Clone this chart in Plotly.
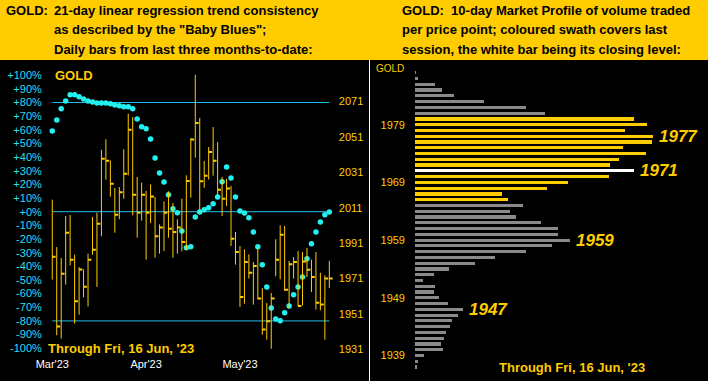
import plotly.graph_objects as go

# ---------------- data ----------------
dates = [
    "2023-03-20", "2023-03-21", "2023-03-22", "2023-03-23", "2023-03-24",
    "2023-03-27", "2023-03-28", "2023-03-29", "2023-03-30", "2023-03-31",
    "2023-04-03", "2023-04-04", "2023-04-05", "2023-04-06", "2023-04-10",
    "2023-04-11", "2023-04-12", "2023-04-13", "2023-04-14", "2023-04-17",
    "2023-04-18", "2023-04-19", "2023-04-20", "2023-04-21", "2023-04-24",
    "2023-04-25", "2023-04-26", "2023-04-27", "2023-04-28", "2023-05-01",
    "2023-05-02", "2023-05-03", "2023-05-04", "2023-05-05", "2023-05-08",
    "2023-05-09", "2023-05-10", "2023-05-11", "2023-05-12", "2023-05-15",
    "2023-05-16", "2023-05-17", "2023-05-18", "2023-05-19", "2023-05-22",
    "2023-05-23", "2023-05-24", "2023-05-25", "2023-05-26", "2023-05-30",
    "2023-05-31", "2023-06-01", "2023-06-02", "2023-06-05", "2023-06-06",
    "2023-06-07", "2023-06-08", "2023-06-09", "2023-06-12", "2023-06-13",
    "2023-06-14", "2023-06-15", "2023-06-16",
]
high = [
    2015.6, 1988.8, 1982.6, 2006.3, 2006.9, 1984.5, 1977.5, 1976.2, 1985.1, 2005.8,
    2008.2, 2043.8, 2049.6, 2037.6, 2022.2, 2022.7, 2044.0, 2064.1, 2062.2, 2028.4,
    2025.2, 2020.5, 2024.2, 2017.1, 2001.6, 2014.6, 2020.3, 2013.7, 2004.5, 2016.1,
    2029.3, 2050.4, 2086.1, 2061.7, 2037.4, 2045.3, 2056.6, 2048.1, 2028.4, 2027.4,
    2023.3, 1997.3, 1989.4, 1987.5, 1984.7, 1980.4, 1988.5, 1965.7, 1957.2, 1962.9,
    1993.2, 2001.1, 2000.7, 1981.0, 1983.2, 1986.6, 1986.0, 1988.3, 1981.7, 1986.0,
    1974.3, 1972.8, 1981.0,
]
low = [
    1970.4, 1939.0, 1937.1, 1967.6, 1978.5, 1945.6, 1950.6, 1960.4, 1955.2, 1984.5,
    1966.3, 1994.9, 2026.9, 2017.3, 1996.9, 2004.5, 2016.1, 2029.3, 2006.7, 1994.1,
    2003.7, 1981.7, 2002.4, 1982.8, 1985.1, 1986.6, 1994.1, 1982.8, 1985.1, 1986.4,
    1987.3, 2016.7, 2039.3, 2008.0, 2022.3, 2026.9, 2029.1, 2017.1, 2006.3, 2012.0,
    1989.4, 1978.9, 1955.0, 1956.8, 1971.0, 1956.3, 1959.3, 1939.3, 1936.5, 1931.4,
    1972.3, 1970.6, 1964.0, 1954.0, 1971.0, 1955.3, 1955.9, 1971.9, 1963.4, 1953.5,
    1953.1, 1936.5, 1965.7,
]
close = [
    1983.4, 1944.0, 1973.8, 1996.9, 1981.7, 1958.2, 1976.2, 1966.4, 1981.7, 1987.3,
    2002.0, 2038.7, 2037.6, 2024.6, 2007.1, 2019.7, 2030.2, 2055.1, 2018.4, 2008.2,
    2018.4, 2008.2, 2017.3, 1994.9, 1999.8, 2008.2, 1999.2, 1997.3, 1999.8, 1991.7,
    2026.1, 2049.6, 2058.9, 2025.9, 2029.1, 2042.5, 2037.6, 2021.2, 2016.1, 2021.8,
    1993.5, 1986.0, 1960.6, 1980.4, 1974.3, 1978.1, 1959.7, 1942.2, 1946.9, 1959.7,
    1981.7, 1995.8, 1964.7, 1979.1, 1980.4, 1955.5, 1980.7, 1976.0, 1971.9, 1957.4,
    1956.3, 1971.0, 1971.0,
]
trend_pct = [
    59.1, 67.2, 75.5, 81.1, 85.7, 85.7, 84.2, 82.6, 81.1, 80.4,
    79.6, 79.6, 79.6, 79.1, 78.2, 77.7, 76.9, 76.9, 75.5, 67.9,
    62.3, 60.7, 53.3, 39.3, 28.4, 21.8, 12.5, 2.2, -0.7, -14.1,
    -26.4, -25.6, -3.9, -0.2, 1.5, 2.9, 5.9, 10.8, 22.0, 32.7,
    24.7, 10.8, 0.5, -1.0, -4.4, -14.9, -25.6, -38.8, -55.2, -70.5,
    -78.6, -79.9, -74.0, -69.1, -60.8, -55.2, -47.8, -34.4, -23.4, -14.9,
    -7.5, -2.2, -0.2,
]

month_tick_dates = ["2023-03-20", "2023-04-19", "2023-05-18"]
month_tick_labels = ["Mar'23", "Apr'23", "May'23"]
pct_ticks = [100, 90, 80, 70, 60, 50, 40, 30, 20, 10, 0,
             -10, -20, -30, -40, -50, -60, -70, -80, -90, -100]
pct_labels = ["+100%", "+90%", "+80%", "+70%", "+60%", "+50%", "+40%", "+30%",
              "+20%", "+10%", "+0%", "-10%", "-20%", "-30%", "-40%", "-50%",
              "-60%", "-70%", "-80%", "-90%", "-100%"]
price_ticks = [1931, 1951, 1971, 1991, 2011, 2031, 2051, 2071]
ref_levels = [80, 0, -80]

profile_levels = [
    1937, 1938, 1939, 1940, 1941, 1942, 1943, 1944, 1945, 1946, 1947, 1948, 1949,
    1950, 1951, 1952, 1953, 1954, 1955, 1956, 1957, 1958, 1959, 1960, 1961, 1962,
    1963, 1964, 1965, 1966, 1967, 1968, 1969, 1970, 1971, 1972, 1973, 1974, 1975,
    1976, 1977, 1978, 1979, 1980, 1981, 1982, 1983, 1984, 1985, 1986, 1987, 1988,
]
profile_volume = [
    2, 3, 9, 28, 26, 29, 31, 35, 37, 43, 48, 33, 24,
    19, 20, 8, 19, 34, 60, 80, 111, 137, 155, 143, 143, 126,
    101, 95, 108, 93, 87, 132, 153, 194, 219, 195, 204, 231, 208,
    237, 238, 210, 232, 219, 130, 111, 69, 39, 27, 20, 3, 1,
]
session_low = 1966
session_high = 1980
close_level = 1971
profile_tick_levels = [1939, 1949, 1959, 1969, 1979]
labelled_levels = [1977, 1971, 1959, 1947]

# ---------------- styles ----------------
W, H = 708, 381
GOLD = "#FFCC00"
CYAN_DOT = "#22F0F0"
CYAN_LINE = "#1EBEF0"
CYAN_TXT = "#2ADFF5"
GRAY = "#8A8A8A"
FONT = "Liberation Sans, Arial, sans-serif"


def px_x(x):
    return x / W


def px_y(y):
    return 1 - y / H


idx = list(range(len(dates)))

fig = go.Figure()

# vertical high-low lines
vx, vy = [], []
for i, h, l in zip(idx, high, low):
    vx += [i, i, None]
    vy += [l, h, None]
fig.add_trace(go.Scatter(x=vx, y=vy, mode="lines", yaxis="y2",
                         line=dict(color=GOLD, width=1), hoverinfo="skip",
                         showlegend=False))
# close ticks (right side)
tx, ty = [], []
for i, c in zip(idx, close):
    tx += [i, i + 0.75, None]
    ty += [c, c, None]
fig.add_trace(go.Scatter(x=tx, y=ty, mode="lines", yaxis="y2",
                         line=dict(color=GOLD, width=2), hoverinfo="skip",
                         showlegend=False))
# reference lines
for lv in ref_levels:
    fig.add_trace(go.Scatter(x=[idx[0], idx[-1]], y=[lv, lv], mode="lines",
                             line=dict(color=CYAN_LINE, width=1),
                             hoverinfo="skip", showlegend=False))
# baby blues
fig.add_trace(go.Scatter(x=idx, y=trend_pct, mode="markers",
                         marker=dict(color=CYAN_DOT, size=5.5, symbol="circle"),
                         showlegend=False))

# market profile
bar_colors = []
for lv in profile_levels:
    if lv == close_level:
        bar_colors.append("#FFFFFF")
    elif session_low <= lv <= session_high:
        bar_colors.append(GOLD)
    else:
        bar_colors.append(GRAY)
fig.add_trace(go.Bar(x=profile_volume, y=profile_levels, orientation="h",
                     marker=dict(color=bar_colors, line=dict(width=0)),
                     width=0.55, xaxis="x3", yaxis="y3", showlegend=False))

annotations = []
for lv in labelled_levels:
    vol = profile_volume[profile_levels.index(lv)]
    annotations.append(dict(x=vol, y=lv, xref="x3", yref="y3",
                            text="<b><i>%d</i></b>" % lv, showarrow=False,
                            xanchor="left", yanchor="middle", xshift=4,
                            font=dict(family=FONT, size=17, color=GOLD)))

# header texts
hdr_font = dict(family=FONT, size=13, color="#000000")
left_lines = ["21-day linear regression trend consistency",
              'as described by the "Baby Blues";',
              "Daily bars from last three months-to-date:"]
right_lines = ["GOLD:\u00a0\u00a010-day Market Profile of volume traded",
               "per price point; coloured swath covers last",
               "session, the white bar being its closing level:"]
line_y = [11, 30, 49]
annotations.append(dict(x=px_x(4), y=px_y(line_y[0]), xref="paper", yref="paper",
                        text="<b>GOLD:</b>", showarrow=False, xanchor="left",
                        yanchor="middle", font=hdr_font))
for t, yy in zip(left_lines, line_y):
    annotations.append(dict(x=px_x(52), y=px_y(yy), xref="paper", yref="paper",
                            text="<b>%s</b>" % t, showarrow=False,
                            xanchor="left", yanchor="middle", font=hdr_font))
for t, yy in zip(right_lines, line_y):
    annotations.append(dict(x=px_x(400), y=px_y(yy), xref="paper", yref="paper",
                            text="<b>%s</b>" % t, showarrow=False,
                            xanchor="left", yanchor="middle", font=hdr_font))

# panel labels
annotations.append(dict(x=px_x(53), y=px_y(76), xref="paper", yref="paper",
                        text="<b>GOLD</b>", showarrow=False, xanchor="left",
                        yanchor="middle",
                        font=dict(family=FONT, size=13, color=GOLD)))
annotations.append(dict(x=px_x(46), y=px_y(348), xref="paper", yref="paper",
                        text="<b>Through Fri, 16 Jun, '23</b>", showarrow=False,
                        xanchor="left", yanchor="middle",
                        font=dict(family=FONT, size=13, color=GOLD)))
annotations.append(dict(x=px_x(497), y=px_y(367), xref="paper", yref="paper",
                        text="<b>Through Fri, 16 Jun, '23</b>", showarrow=False,
                        xanchor="left", yanchor="middle",
                        font=dict(family=FONT, size=13, color=GOLD)))
annotations.append(dict(x=px_x(406), y=px_y(68), xref="paper", yref="paper",
                        text="GOLD", showarrow=False, xanchor="right",
                        yanchor="middle",
                        font=dict(family=FONT, size=10, color=GOLD)))

shapes = [
    dict(type="rect", xref="paper", yref="paper", x0=0, x1=1, y0=px_y(60), y1=1,
         fillcolor=GOLD, line=dict(width=0), layer="below"),
    dict(type="line", xref="paper", yref="paper", x0=px_x(369.5), x1=px_x(369.5),
         y0=0, y1=px_y(60), line=dict(color="#FFFFFF", width=1)),
]

tick_idx = [dates.index(d) for d in month_tick_dates]

fig.update_layout(
    width=W, height=H, autosize=False,
    margin=dict(l=0, r=0, t=0, b=0, pad=0),
    paper_bgcolor="#000000", plot_bgcolor="#000000",
    showlegend=False, bargap=0,
    font=dict(family=FONT, size=11),
    xaxis=dict(domain=[px_x(47.8), px_x(333.8)], range=[-1, 63],
               tickvals=tick_idx, ticktext=month_tick_labels, ticks="",
               showgrid=False, zeroline=False, showline=False, automargin=False,
               tickfont=dict(color="#FFFFFF", size=11, family=FONT)),
    yaxis=dict(domain=[px_y(356), px_y(62)], range=[-105.71, 109.67],
               tickvals=pct_ticks, ticktext=pct_labels, ticks="",
               showgrid=False, zeroline=False, showline=False, automargin=False,
               tickfont=dict(color=CYAN_TXT, size=11, family=FONT),
               ticklabelstandoff=5),
    yaxis2=dict(overlaying="y", side="right", range=[1927.29, 2093.30],
                tickvals=price_ticks, ticks="", showgrid=False, automargin=False,
                zeroline=False, showline=False,
                tickfont=dict(color=GOLD, size=11, family=FONT),
                ticklabelstandoff=4),
    xaxis3=dict(domain=[px_x(415), 1], range=[0, 293], anchor="y3",
                showticklabels=False, ticks="", showgrid=False, automargin=False,
                zeroline=False, showline=False),
    yaxis3=dict(domain=[0, px_y(60)], range=[1934.58, 1990.21], anchor="x3",
                tickvals=profile_tick_levels, ticks="", showgrid=False,
                zeroline=False, showline=False, automargin=False,
                tickfont=dict(color=GOLD, size=11, family=FONT),
                ticklabelstandoff=9),
    annotations=annotations,
    shapes=shapes,
)

fig.write_html("out.html", config={"displayModeBar": False},
               post_script="document.body.style.margin='0';document.body.style.overflow='hidden';")
